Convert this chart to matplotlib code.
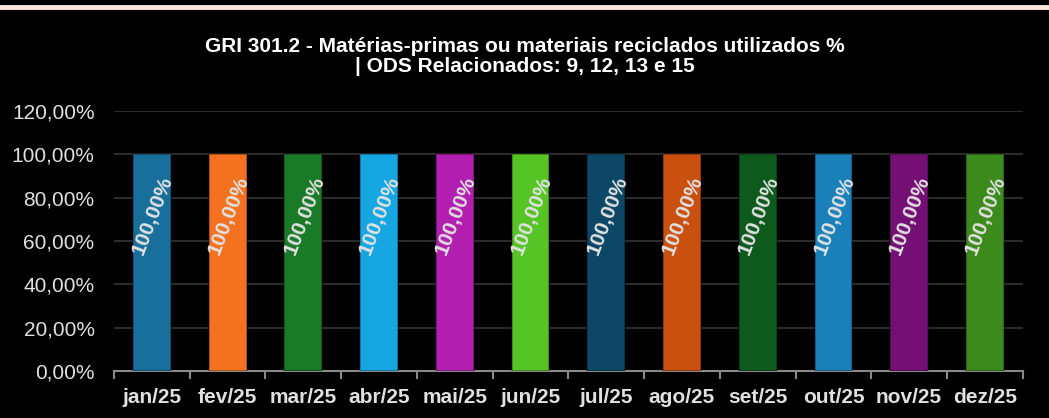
import numpy as np
import matplotlib
matplotlib.use("Agg")
import matplotlib.pyplot as plt
from matplotlib.ticker import FuncFormatter

plt.rcParams['font.family'] = ['Liberation Sans', 'DejaVu Sans']

meses = ["jan/25", "fev/25", "mar/25", "abr/25", "mai/25", "jun/25",
         "jul/25", "ago/25", "set/25", "out/25", "nov/25", "dez/25"]
valores = [100, 100, 100, 100, 100, 100, 100, 100, 100, 100, 100, 100]
cores = ["#186f9c", "#f47120", "#197a27", "#16a6e2", "#b21fb0", "#55c424",
         "#0c4866", "#c9500f", "#0d5a1c", "#1a80b9", "#741075", "#3d8a1c"]

titulo = ("GRI 301.2 - Matérias-primas ou materiais reciclados utilizados %\n"
          "| ODS Relacionados: 9, 12, 13 e 15")

def fmt_pct(v, pos=None):
    return "{:.2f}%".format(v).replace(".", ",")

fig = plt.figure(figsize=(10.49, 4.18), dpi=100, facecolor="black")
# faixa rosada no topo
fig.add_artist(plt.Line2D([0, 1], [0.983, 0.983], color="#fde6dc", lw=3.5,
                          transform=fig.transFigure))

ax = fig.add_axes([0.1087, 0.1124, 0.8663, 0.622])
ax.set_facecolor("black")

x = np.arange(len(meses))
ax.bar(x, valores, width=0.5, color=cores, edgecolor="#00000055", lw=1.2, zorder=3)

for xi, v in zip(x, valores):
    ax.text(xi + 0.01, v * 0.72, fmt_pct(v), rotation=69, ha="center", va="center",
            color="#e2e2e2", fontsize=15, fontweight="bold", zorder=4)

ax.set_ylim(0, 120)
ax.set_xlim(-0.5, len(meses) - 0.5)
ax.set_yticks(np.arange(0, 121, 20))
ax.yaxis.set_major_formatter(FuncFormatter(fmt_pct))
ax.grid(axis="y", color="#2b2b2b", lw=1.5, zorder=0)

ax.set_xticks(x)
ax.set_xticklabels(meses, fontweight="bold", fontsize=15, color="#e0e0e0")
ax.set_xticks(np.arange(-0.5, len(meses), 1), minor=True)
ax.tick_params(axis="x", which="major", length=0, pad=12)
ax.tick_params(axis="x", which="minor", length=6, color="#8a8a8a", width=1.5)
ax.tick_params(axis="y", length=0, labelsize=15, labelcolor="#e0e0e0", pad=14)

for s in ["top", "right", "left"]:
    ax.spines[s].set_visible(False)
ax.spines["bottom"].set_color("#8a8a8a")
ax.spines["bottom"].set_linewidth(1.5)

fig.text(0.5, 0.865, titulo, ha="center", va="center", color="white",
         fontsize=15, fontweight="bold", linespacing=1.1)

fig.savefig("out.png", dpi=100, facecolor="black")
